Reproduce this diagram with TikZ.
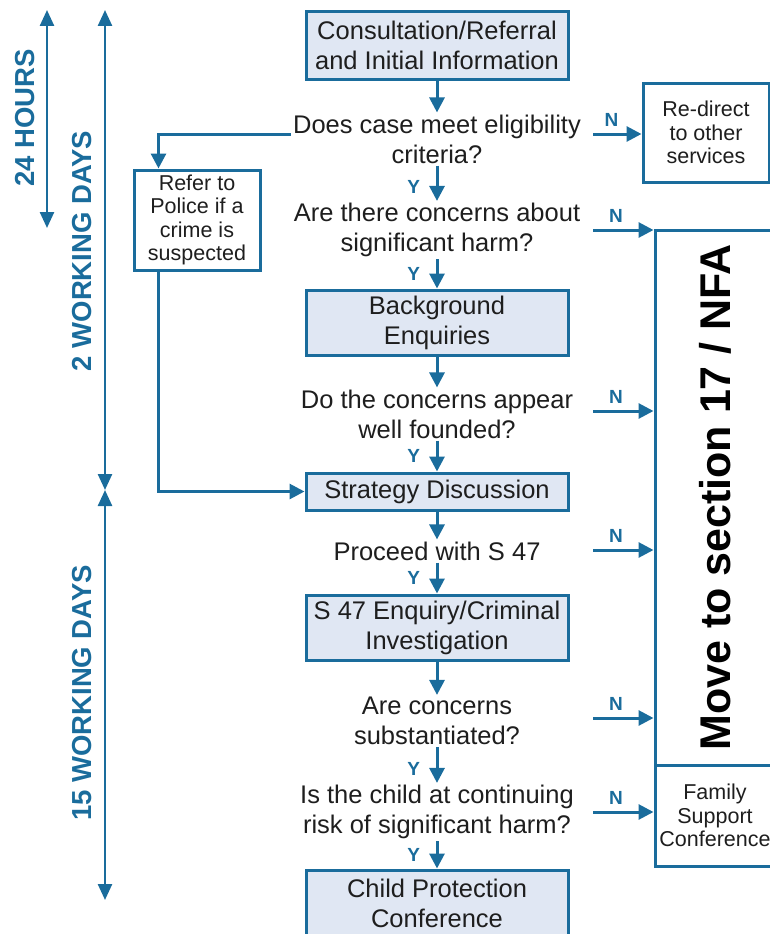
\documentclass[tikz,border=0pt]{standalone}
\usepackage{fontspec}
\setmainfont{Liberation Sans}
\usetikzlibrary{arrows.meta}
\definecolor{cblue}{RGB}{26,108,156}
\definecolor{cfill}{RGB}{224,231,243}
\definecolor{ctext}{RGB}{30,30,30}
\newcommand\fmain{\fontsize{25.5}{30}\selectfont}
\newcommand\fside{\fontsize{21.5}{23.5}\selectfont}
\newcommand\fbig{\fontsize{43}{50}\selectfont\bfseries}
\newcommand\fspan{\fontsize{27.5}{30}\selectfont\bfseries}
\newcommand\fyn{\fontsize{19}{20}\selectfont\bfseries}
\begin{document}
\begin{tikzpicture}[x=1pt,y=-1pt,
  mainbox/.style={draw=cblue, line width=3pt, fill=cfill, minimum width=262pt,
    align=center, font=\fmain, text=ctext, inner sep=0pt},
  sidebox/.style={draw=cblue, line width=3pt, fill=white, align=center,
    font=\fside, text=ctext, inner sep=0pt},
  question/.style={align=center, font=\fmain, text=ctext, inner sep=2pt},
  arr/.style={draw=cblue, line width=3pt, -{Triangle[length=15pt,width=15pt]}},
  span/.style={draw=cblue, line width=2.5pt,
    {Triangle[length=16pt,width=14pt]}-{Triangle[length=16pt,width=14pt]}},
  spantext/.style={rotate=90, font=\fspan, text=cblue},
  yn/.style={font=\fyn, text=cblue}]
\useasboundingbox (0,0) rectangle (769,934);

% main column
\node[mainbox, minimum height=67pt] (consult) at (437,45.5) {Consultation/Referral\\and Initial Information};
\node[question] (q1) at (437,139) {Does case meet eligibility\\criteria?};
\node[question] (q2) at (437,230) {Are there concerns about\\significant harm?};
\node[mainbox, minimum height=65pt] (bg) at (437,322.5) {Background\\Enquiries};
\node[question] (q3) at (437,414) {Do the concerns appear\\well founded?};
\node[mainbox, minimum height=37pt] (strat) at (437,491.5) {Strategy Discussion};
\node[question] (q4) at (437,551) {Proceed with S 47};
\node[mainbox, minimum height=65pt] (s47) at (437,627.5) {S 47 Enquiry/Criminal\\Investigation};
\node[question] (q5) at (437,721) {Are concerns\\substantiated?};
\node[question] (q6) at (437,812) {Is the child at continuing\\risk of significant harm?};
\node[mainbox, minimum height=66pt] (cpc) at (437,903) {Child Protection\\Conference};

% side boxes
\node[sidebox, minimum width=126pt, minimum height=99pt] (redirect) at (706,132.5) {Re-direct\\to other\\services};
\node[sidebox, minimum width=126pt, minimum height=100pt] (police) at (197,220) {Refer to\\Police if a\\crime is\\suspected};
\node[sidebox, minimum width=120pt, minimum height=535pt] (nfa) at (715,497.5) {};
\node[rotate=90, font=\fbig, text=black] (nfatext) at (nfa.center) {Move to section 17 / NFA};
\node[sidebox, minimum width=120pt, minimum height=101pt] (fam) at (715,815.5) {Family\\Support\\Conference};

% time spans
\coordinate (h24a) at (47,10);
\coordinate (h24b) at (47,228);
\draw[span] (h24a) -- (h24b);
\node[spantext] (t24) at (25,118) {24 HOURS};
\coordinate (w2a) at (105,10);
\coordinate (w2b) at (105,490);
\draw[span] (w2a) -- (w2b);
\node[spantext] (t2) at (82,251) {2 WORKING DAYS};
\coordinate (w15a) at (105,490);
\coordinate (w15b) at (105,900);
\draw[span] (w15a) -- (w15b);
\node[spantext] (t15) at (82,693) {15 WORKING DAYS};

% vertical flow
\draw[arr] (consult) -- (q1);
\draw[arr] (q1) -- node[yn, left=12pt, pos=0.6] {Y} (q2);
\draw[arr] (q2) -- node[yn, left=12pt, pos=0.5] {Y} (bg);
\draw[arr] (bg) -- (q3);
\draw[arr] (q3) -- node[yn, left=12pt, pos=0.5] {Y} (strat);
\draw[arr] (strat) -- (q4);
\draw[arr] (q4) -- node[yn, left=12pt, pos=0.5] {Y} (s47);
\draw[arr] (s47) -- (q5);
\draw[arr] (q5) -- node[yn, left=12pt, pos=0.6] {Y} (q6);
\draw[arr] (q6) -- node[yn, left=12pt, pos=0.5] {Y} (cpc);

% N branches
\coordinate (n1) at (593,134);
\coordinate (n2) at (593,230);
\coordinate (n3) at (593,411);
\coordinate (n4) at (593,550);
\coordinate (n5) at (593,718);
\coordinate (n6) at (593,812);
\draw[arr] (n1) -- node[yn, above=3pt, pos=0.38] {N} (n1 -| redirect.west);
\draw[arr] (n2) -- node[yn, above=3pt, pos=0.38] {N} (n2 -| nfa.west);
\draw[arr] (n3) -- node[yn, above=3pt, pos=0.38] {N} (n3 -| nfa.west);
\draw[arr] (n4) -- node[yn, above=3pt, pos=0.38] {N} (n4 -| nfa.west);
\draw[arr] (n5) -- node[yn, above=3pt, pos=0.38] {N} (n5 -| nfa.west);
\draw[arr] (n6) -- node[yn, above=3pt, pos=0.38] {N} (n6 -| fam.west);

% police branch
\draw[arr] ([yshift=5pt]q1.west) -| ([xshift=26pt]police.north west);
\draw[arr] ([xshift=26pt]police.south west) |- (strat.west);
\end{tikzpicture}
\end{document}
